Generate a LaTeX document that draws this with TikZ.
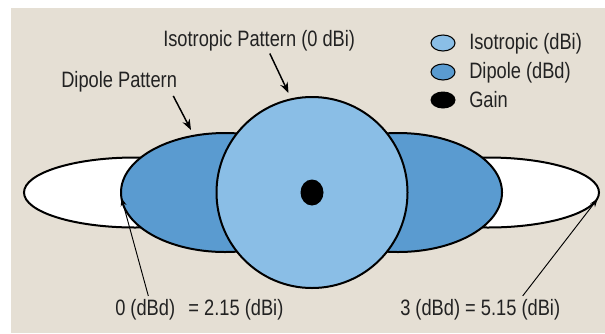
\documentclass[tikz,border=0pt]{standalone}
\usepackage{fontspec}
\setmainfont{Liberation Sans}[FakeStretch=0.82]
\usetikzlibrary{arrows.meta}
\definecolor{sfondo}{RGB}{229,223,212}
\definecolor{isoblu}{RGB}{138,190,230}
\definecolor{dipblu}{RGB}{90,155,208}
\definecolor{testo}{RGB}{34,34,34}
\tikzset{
  lobo/.style={draw=black,line width=1.5pt},
  etich/.style={inner sep=0pt,anchor=base west,text=testo,font=\fontsize{16.7}{20}\selectfont},
  freccia/.style={-{Stealth[length=8pt,width=6pt]},line width=1.1pt},
  frecciasottile/.style={-{Stealth[length=6pt,width=4.5pt]},line width=0.7pt}
}
\begin{document}
\begin{tikzpicture}[x=0.75pt,y=-0.75pt]
        \useasboundingbox (0,0) rectangle (605,333);
        \fill[sfondo] (11,8) rectangle (605,333);
        % lobi lungo l'asse: prima i bianchi, poi il dipolo
        \filldraw[lobo,fill=white] (135,192.5) ellipse (111 and 35);
        \filldraw[lobo,fill=white] (488,192.5) ellipse (111 and 35);
        \filldraw[lobo,fill=dipblu] (225,192.5) ellipse (104 and 59.5);
        \filldraw[lobo,fill=dipblu] (398,192.5) ellipse (104 and 59.5);
        \filldraw[lobo,fill=isoblu] (312,192.5) circle (95.5);
        \fill (312,192.5) ellipse (11.5 and 13);
        % legenda
        \filldraw[fill=isoblu,line width=0.8pt] (443,43) ellipse (12 and 8);
        \filldraw[fill=dipblu,line width=0.8pt] (443,72) ellipse (12 and 8);
        \fill (443,100) ellipse (12.5 and 8.5);
        \node[etich] (legIso) at (469,49) {Isotropic (dBi)};
        \node[etich] (legDip) at (469,78) {Dipole (dBd)};
        \node[etich] (legGain) at (469,107.5) {Gain};
        % etichette e frecce
        \node[etich] (isoLbl) at (163,46) {Isotropic Pattern (0 dBi)};
        \node[etich] (dipLbl) at (61,87) {Dipole Pattern};
        \node[etich] (zeroLbl) at (115,315) {0 (dBd)\hspace{0.6em}= 2.15 (dBi)};
        \node[etich] (treLbl) at (400,315) {3 (dBd) = 5.15 (dBi)};
        \coordinate (isoTop) at (288.5,93);
        \coordinate (dipTop) at (191,130);
        \coordinate (dipSx) at (121.5,198);
        \coordinate (bianDx) at (597.5,199);
        \draw[freccia] ([xshift=8pt,yshift=-2pt]isoLbl.south) -- (isoTop);
        \draw[freccia] ([xshift=-3pt,yshift=-3pt]dipLbl.south east) -- (dipTop);
        \draw[frecciasottile] ([xshift=25pt,yshift=2pt]zeroLbl.north west) -- (dipSx);
        \draw[frecciasottile] ([xshift=92pt,yshift=2pt]treLbl.north west) -- (bianDx);
\end{tikzpicture}
\end{document}
